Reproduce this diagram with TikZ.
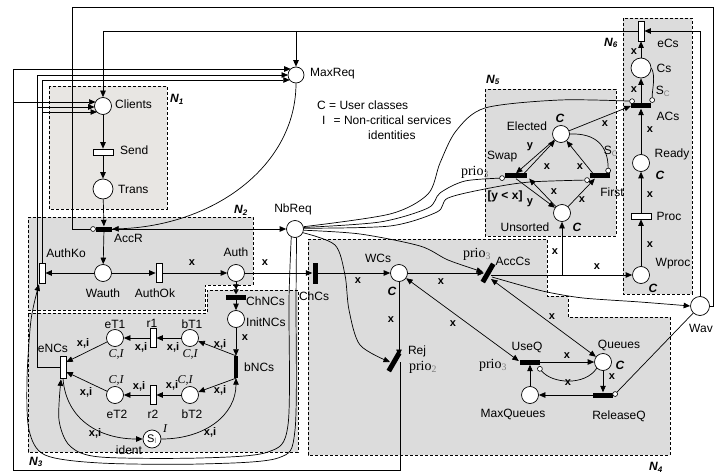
\documentclass[tikz,border=0pt]{standalone}
\usepackage{fontspec}
\setmainfont{Liberation Sans}
\newfontfamily\serifit{Liberation Serif}
\usetikzlibrary{arrows.meta,calc}
\definecolor{netgray}{HTML}{DCDCDC}
\definecolor{clientgray}{HTML}{E8E6E3}
\definecolor{subgray}{HTML}{808080}
\newcommand{\prio}[1]{{\fontsize{14}{16}\selectfont\serifit prio\textsubscript{\color{subgray}#1}}}
\newcommand{\Ssub}[1]{S\textsubscript{\color{subgray}#1}}
\newcommand{\netname}[1]{\textbf{\textit{N\textsubscript{#1}}}}
\newcommand{\cls}{\textbf{\textit{C}}}
\newcommand{\clsid}{{\serifit\itshape C,I}}
\tikzset{
  place/.style={circle, draw, fill=white, minimum size=17pt, inner sep=0pt, line width=0.7pt},
  wtrans/.style={draw, fill=white, inner sep=0pt, minimum width=6pt, minimum height=19pt, line width=0.7pt},
  htrans/.style={draw, fill=white, inner sep=0pt, minimum width=20pt, minimum height=6pt, line width=0.7pt},
  vbar/.style={fill=black, inner sep=0pt, minimum width=5pt, minimum height=21pt},
  hbar/.style={fill=black, inner sep=0pt, minimum width=20pt, minimum height=5pt},
  arc/.style={-{Triangle[length=6.5pt,width=5.5pt]}, line width=0.7pt},
  biarc/.style={{Triangle[length=6.5pt,width=5.5pt]}-{Triangle[length=6.5pt,width=5.5pt]}, line width=0.7pt},
  dblarc/.style={-{Triangle[length=5pt,width=5.5pt]Triangle[length=5pt,width=5.5pt]}, line width=0.7pt},
  inh/.style={-{Circle[length=5.5pt,fill=white,line width=0.6pt]}, line width=0.7pt},
  lbl/.style={font=\fontsize{12}{15}\selectfont, inner sep=1pt},
  al/.style={font=\fontsize{11}{13}\selectfont\bfseries, inner sep=1pt},
  netbox/.style={fill=netgray, draw, line width=0.7pt, dash pattern=on 3pt off 2pt},
  tokfive/.style={path picture={\foreach \dx/\dy in {-2.6/-2.6,2.6/-2.6,0/0,-2.6/2.6,2.6/2.6}
      \fill ($(path picture bounding box.center)+(\dx,\dy)$) circle (0.8pt);}},
  tokfour/.style={path picture={\foreach \dx/\dy in {-2.4/-1.5,2.4/-2.4,2.4/2.4,-0.5/2}
      \fill ($(path picture bounding box.center)+(\dx,\dy)$) circle (0.8pt);}},
  toktwo/.style={path picture={\foreach \dx/\dy in {-1.8/1.8,1.8/-1.8}
      \fill ($(path picture bounding box.center)+(\dx,\dy)$) circle (0.8pt);}},
}

\begin{document}
\begin{tikzpicture}[x=1pt, y=-1pt]
  \useasboundingbox (0,0) rectangle (714,473);

  % subnets
  \path[netbox, fill=clientgray] (49,86) rectangle (167,209);
  \path[netbox] (28,217) -- (253,217) -- (253,285) -- (205,285) -- (205,310) -- (28,310) -- cycle;
  \path[netbox] (28,313) -- (207,313) -- (207,290) -- (298,290) -- (298,452) -- (28,452) -- cycle;
  \path[netbox] (308,239) -- (547,239) -- (547,296) -- (568,296) -- (568,317) -- (670,317) -- (670,455) -- (308,455) -- cycle;
  \path[netbox] (485,89) rectangle (616,236);
  \path[netbox] (623,18) rectangle (692,294);
  \node[lbl] (n1) at (177,99) {\netname{1}};
  \node[lbl] (n2) at (241,210) {\netname{2}};
  \node[lbl] (n3) at (36,462) {\netname{3}};
  \node[lbl] (n4) at (656,467) {\netname{4}};
  \node[lbl] (n5) at (493,80) {\netname{5}};
  \node[lbl] (n6) at (611,43) {\netname{6}};

  % N1
  \node[place, tokfive] (clients) at (103,106) {};
  \node[htrans] (send) at (103,152) {};
  \node[place, minimum size=20pt] (trans) at (103,189) {};
  \node[place, minimum size=16pt, tokfour] (maxreq) at (296,75) {};
  % N2
  \node[hbar, minimum width=16pt] (accr) at (104,229) {};
  \node[place] (wauth) at (103,273) {};
  \node[wtrans, minimum height=20pt] (authko) at (42,273) {};
  \node[wtrans] (authok) at (159,273) {};
  \node[place] (auth) at (236,273) {};
  \node[place] (nbreq) at (295,229) {};
  % N3
  \node[hbar] (chncs) at (236,297) {};
  \node[place] (initncs) at (236,319) {};
  \node[vbar, minimum width=4pt, minimum height=22pt] (bncs) at (236,367) {};
  \node[place] (bt1) at (190,338) {};
  \node[wtrans] (r1) at (153,338) {};
  \node[place] (et1) at (115,338) {};
  \node[place] (bt2) at (190,395) {};
  \node[wtrans] (r2) at (153,395) {};
  \node[place] (et2) at (115,395) {};
  \node[wtrans, minimum height=22pt] (encs) at (63,367) {};
  \node[place, minimum size=18pt, font=\fontsize{11}{13}\selectfont] (ident) at (152,439) {\Ssub{I}};
  % N4
  \node[vbar] (chcs) at (315,273) {};
  \node[place] (wcs) at (399,273) {};
  \node[vbar, rotate=-30] (acccs) at (488,273) {};
  \node[vbar, rotate=-30] (rej) at (394,362) {};
  \node[hbar] (useq) at (530,362) {};
  \node[place] (queues) at (603,362) {};
  \node[hbar] (releaseq) at (603,395) {};
  \node[place, toktwo] (maxqueues) at (530,395) {};
  % N5
  \node[place] (elected) at (561,134) {};
  \node[hbar, minimum width=22pt] (swap) at (516,176) {};
  \node[hbar] (first) at (600,176) {};
  \node[place] (unsorted) at (562,213) {};
  % N6
  \node[wtrans, minimum height=20pt] (ecs) at (641,31) {};
  \node[place, minimum size=20pt] (cs) at (641,68) {};
  \node[hbar] (acs) at (641,106) {};
  \node[place] (ready) at (641,163) {};
  \node[htrans] (proc) at (641,216) {};
  \node[place] (wproc) at (641,275) {};
  \node[place, minimum size=19pt] (wav) at (700,306) {};

  % names
  \node[lbl, anchor=west] (clients-t) at (114,104) {Clients};
  \node[lbl, anchor=west] (maxreq-t) at (309,74) {MaxReq};
  \node[lbl, anchor=west] (send-t) at (119,150) {Send};
  \node[lbl, anchor=west] (trans-t) at (117,189) {Trans};
  \node[lbl, anchor=west] (accr-t) at (113,238) {AccR};
  \node[lbl] (authko-t) at (66,253) {AuthKo};
  \node[lbl] (wauth-t) at (103,293) {Wauth};
  \node[lbl] (authok-t) at (155,293) {AuthOk};
  \node[lbl] (auth-t) at (236,252) {Auth};
  \node[lbl] (nbreq-t) at (293,209) {NbReq};
  \node[lbl, anchor=west] (chncs-t) at (245,301) {ChNCs};
  \node[lbl, anchor=west] (initncs-t) at (245,322) {InitNCs};
  \node[lbl, anchor=west] (bncs-t) at (243,367) {bNCs};
  \node[lbl] (bt1-t) at (192,324) {bT1};
  \node[lbl] (r1-t) at (152,323) {r1};
  \node[lbl] (et1-t) at (115,324) {eT1};
  \node[lbl] (bt2-t) at (192,414) {bT2};
  \node[lbl] (r2-t) at (153,414) {r2};
  \node[lbl] (et2-t) at (117,414) {eT2};
  \node[lbl] (bt1-c) at (190,354) {\clsid};
  \node[lbl] (et1-c) at (116,354) {\clsid};
  \node[lbl] (bt2-c) at (185,380) {\clsid};
  \node[lbl] (et2-c) at (116,380) {\clsid};
  \node[lbl] (encs-t) at (53,348) {eNCs};
  \node[lbl] (ident-t) at (129,450) {ident};
  \node[lbl] (ident-c) at (165,429) {\serifit\itshape I};
  \node[lbl] (chcs-t) at (314,296) {ChCs};
  \node[lbl] (wcs-t) at (378,258) {WCs};
  \node[lbl] (wcs-c) at (392,291) {\cls};
  \node[lbl] (acccs-t) at (513,261) {AccCs};
  \node[lbl] (acccs-p) at (477,254) {\prio{3}};
  \node[lbl] (rej-t) at (417,351) {Rej};
  \node[lbl] (rej-p) at (423,367) {\prio{2}};
  \node[lbl] (useq-t) at (527,347) {UseQ};
  \node[lbl] (useq-p) at (493,365) {\prio{3}};
  \node[lbl] (queues-t) at (619,345) {Queues};
  \node[lbl] (queues-c) at (620,365) {\cls};
  \node[lbl] (releaseq-t) at (619,416) {ReleaseQ};
  \node[lbl] (maxqueues-t) at (513,414) {MaxQueues};
  \node[lbl] (elected-t) at (527,126) {Elected};
  \node[lbl] (elected-c) at (560,118) {\cls};
  \node[lbl, anchor=west] (swap-t) at (486,157) {Swap};
  \node[lbl] (swap-p) at (475,172) {\prio{3}};
  \node[lbl] (swap-g) at (505,196) {\textbf{[y < x]}};
  \node[lbl] (unsorted-t) at (525,227) {Unsorted};
  \node[lbl] (unsorted-c) at (577,227) {\cls};
  \node[lbl] (first-t) at (612,192) {First};
  \node[lbl] (ecs-t) at (668,43) {eCs};
  \node[lbl] (cs-t) at (664,68) {Cs};
  \node[lbl] (acs-t) at (668,116) {ACs};
  \node[lbl] (ready-t) at (672,154) {Ready};
  \node[lbl] (ready-c) at (660,175) {\cls};
  \node[lbl] (proc-t) at (669,216) {Proc};
  \node[lbl] (wproc-t) at (673,264) {Wproc};
  \node[lbl] (wproc-c) at (653,288) {\cls};
  \node[lbl] (wav-t) at (701,328) {Wav};
  \node[lbl, anchor=north west, align=left] (legend) at (316,100)
    {C = User classes\\\hspace*{0.4em}I\hspace*{0.7em}= Non-critical services\\\hspace*{4.25em}identities};

  % N1 / N2 arcs
  \draw[arc] (clients) -- (send);
  \draw[arc] (send) -- (trans);
  \draw[arc] (trans) -- (accr);
  \draw[arc] (accr) -- (wauth);
  \draw[arc] (maxreq.south) .. controls (296,165) and (215,226) .. (accr.east);
  \draw[arc] (accr.east) -- (nbreq);
  \draw[arc] (wauth) -- (authko);
  \draw[arc] (wauth) -- (authok);
  \draw[arc] (authok) -- (auth) node[al] at (192,263) {x};
  \draw[arc] (auth) -- (chcs) node[al] at (265,263) {x};
  \draw[dblarc] (auth) -- (chncs);
  \draw[arc] (chncs) -- (initncs);
  \draw[arc] (initncs) -- (bncs) node[al] at (245,338) {x};

  % N3 arcs
  \draw[arc] (bncs.north) -- (bt1) node[al] at (220,344) {x,i};
  \draw[arc] (bt1) -- (r1) node[al] at (173,347) {x,i};
  \draw[arc] (r1) -- (et1) node[al] at (141,347) {x,i};
  \draw[arc] (et1) -- ($(encs.east)+(0,-5)$) node[al] at (83,343) {x,i};
  \draw[arc] (bncs.south) -- (bt2) node[al] at (220,390) {x,i};
  \draw[arc] (bt2) -- (r2) node[al] at (172,385) {x,i};
  \draw[arc] (r2) -- (et2) node[al] at (139,386) {x,i};
  \draw[arc] (et2) -- ($(encs.east)+(0,5)$) node[al] at (86,392) {x,i};
  \draw[arc] (encs.south) .. controls (66,420) and (100,439) .. (ident.west) node[al] at (95,433) {x,i};
  \draw[arc] (ident.east) .. controls (205,439) and (236,415) .. (bncs.south) node[al] at (210,432) {x,i};

  % back to Clients and MaxReq
  \draw[arc] (encs.west) -- (37,367) -- (37,107) -- ($(clients)+(-8.4,1)$);
  \draw[arc] (37,107) -- (37,75) -- ($(maxreq)+(-8,0)$);
  \draw[arc] (authko.north) -- (42,112) -- ($(clients)+(-6,6)$);
  \draw[arc] (42,112) -- (42,80) -- ($(maxreq)+(-6.2,5)$);
  \draw[arc] ($(rej)+(6,0)$) -- (400,470) -- (13,470) -- (13,102) -- ($(clients)+(-7.5,-4)$);
  \draw[arc] (13,102) -- (13,69) -- ($(maxreq)+(-5.3,-6)$);
  \draw[arc] (ecs.west) -- (103,31) -- (clients.north);
  \draw[arc] (296,31) -- (maxreq.north);
  \draw[arc] (wav.north) -- (700,31) -- (ecs.east);
  \draw[inh] (wav.east) -- (713,306) -- (713,7) -- (72,7) -- (72,229) -- (accr.west);

  % from NbReq
  \draw[arc] plot[smooth] coordinates {(nbreq.-80) (296,300) (295,430) (278,458) (200,464) (100,463) (45,455) (29,430) (27,380) (31,320) ($(authko.south)+(-3,1)$)};
  \draw[arc] plot[smooth] coordinates {(nbreq.-115) (289,300) (288,425) (268,452) (200,458) (100,457) (70,446) (59,420) ($(encs.south)+(-2,1)$)};
  \draw[arc] plot[smooth] coordinates {(nbreq.-25) (335,245) (345,275) (349,310) (360,345) ($(rej)+(-4,0)$)};
  \draw[arc] plot[smooth] coordinates {(nbreq.-8) (360,234) (420,246) (448,260) ($(acccs)+(-5,-1)$)};
  \draw[inh] plot[smooth] coordinates {(nbreq.15) (390,214) (428,194) (440,163) (456,131) (485,108) (560,100) ($(acs.north west)+(4,-2)$)};
  \draw[inh] plot[smooth] coordinates {(nbreq.10) (380,222) (428,208) (440,193) (465,181) ($(swap.west)+(0,2)$)};
  \draw[inh] plot[smooth] coordinates {(nbreq.5) (390,226) (437,212) (448,198) (490,188) (530,182) ($(first.west)+(0,4)$)};

  % N4 arcs
  \draw[arc] (chcs) -- (wcs) node[al] at (358,281) {x};
  \draw[arc] (wcs) -- ($(acccs)+(-4,0)$) node[al] at (441,282) {x};
  \draw[arc] (wcs) -- ($(rej)+(5,-6)$) node[al] at (391,320) {x};
  \draw[arc] ($(acccs)+(3,2)$) -- (wproc) node[al] at (597,267) {x};
  \draw[arc] (unsorted |- wproc) -- (unsorted) node[al] at (555,252) {x};
  \draw[arc] plot[smooth] coordinates {($(acccs)+(4,4)$) (520,285) (547,292) (583,298) (640,302) (wav.west)};
  \draw[biarc] (wcs) -- ($(useq.west)+(-1,-1)$) node[al] at (453,324) {x};
  \draw[biarc] ($(acccs)+(3,6)$) -- (queues) node[al] at (552,317) {x};
  \draw[arc] (useq.east) -- (queues) node[al] at (567,356) {x};
  \draw[inh] (queues.south west) .. controls (585,386) and (552,384) .. ($(useq.south east)+(-2,2)$) node[al] at (568,383) {x};
  \draw[arc] (queues) -- (releaseq) node[al] at (612,377) {x};
  \draw[arc] (releaseq) -- (maxqueues);
  \draw[arc] (maxqueues) -- (useq);
  \draw[inh] (wav) -- ($(releaseq.east)+(0,1)$);

  % N5 arcs
  \draw[arc] ($(swap.north east)+(-3,0)$) -- (elected) node[al] at (547,167) {x};
  \draw[arc] (elected) -- (swap.north) node[al] at (530,147) {y};
  \draw[arc] (swap.south) -- (unsorted) node[al] at (530,203) {y};
  \draw[arc] (unsorted) -- ($(swap.south east)+(2,0)$) node[al] at (554,192) {x};
  \draw[arc] ($(first.north west)+(3,0)$) -- (elected) node[al] at (580,167) {x};
  \draw[arc] (unsorted) -- ($(first.south west)+(5,0)$) node[al] at (582,200) {x};
  \draw[inh] (elected.east) .. controls (595,133) and (608,145) .. ($(first.north east)+(-2,0)$) node[lbl] at (611,151) {\Ssub{C}};
  \draw[arc] (elected) -- (acs.west) node[al] at (605,124) {x};

  % N6 arcs
  \draw[arc] (wproc) -- (proc) node[al] at (650,245) {x};
  \draw[arc] (proc) -- (ready) node[al] at (650,195) {x};
  \draw[arc] (ready) -- (acs) node[al] at (650,130) {x};
  \draw[arc] (acs) -- (cs) node[al] at (634,90) {x};
  \draw[arc] (cs) -- (ecs) node[al] at (634,52) {x};
  \draw[inh] (cs.east) .. controls (656,76) and (652,90) .. ($(acs.north east)+(1,-0.5)$) node[lbl] at (663,91) {\Ssub{C}};
\end{tikzpicture}
\end{document}
